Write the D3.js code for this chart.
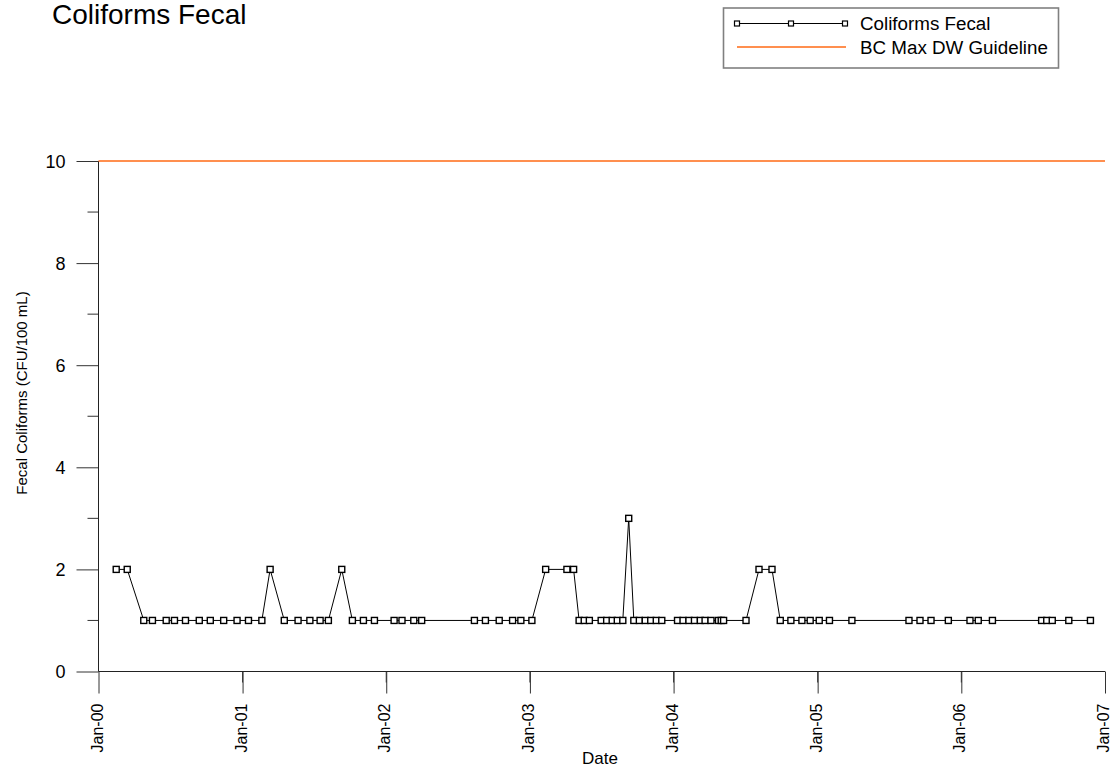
<!DOCTYPE html>
<html>
<head>
<meta charset="utf-8">
<script src="https://cdn.jsdelivr.net/npm/d3@7"></script>
<style>
  html, body { margin: 0; padding: 0; background: #fff; }
  svg { display: block; font-family: Arial, "Liberation Sans", sans-serif; }
</style>
</head>
<body>
<svg id="chart" width="1112" height="770"></svg>
<script>
// Fecal coliform sampling results (CFU/100 mL)
const sampleDates = [
  "2000-02-15","2000-03-14","2000-04-25","2000-05-17","2000-06-21","2000-07-12",
  "2000-08-09","2000-09-13","2000-10-11","2000-11-14","2000-12-18","2001-01-16",
  "2001-02-19","2001-03-12","2001-04-17","2001-05-22","2001-06-21","2001-07-17",
  "2001-08-07","2001-09-10","2001-10-07","2001-11-04","2001-12-02","2002-01-21",
  "2002-02-10","2002-03-12","2002-04-01","2002-08-13","2002-09-10","2002-10-15",
  "2002-11-18","2002-12-09","2003-01-06","2003-02-10","2003-04-05","2003-04-22",
  "2003-05-06","2003-05-19","2003-06-01","2003-07-01","2003-07-15","2003-07-29",
  "2003-08-11","2003-08-25","2003-09-09","2003-09-22","2003-10-06","2003-10-21",
  "2003-11-04","2003-11-18","2003-12-02","2004-01-11","2004-01-25","2004-02-09",
  "2004-02-23","2004-03-09","2004-03-21","2004-04-05","2004-04-24","2004-05-01",
  "2004-05-07","2004-07-03","2004-08-05","2004-09-07","2004-09-28","2004-10-25",
  "2004-11-22","2004-12-13","2005-01-05","2005-01-31","2005-03-29","2005-08-21",
  "2005-09-18","2005-10-16","2005-11-29","2006-01-23","2006-02-13","2006-03-21",
  "2006-07-24","2006-08-06","2006-08-20","2006-10-01","2006-11-25"
];
const fecalValues = [
  2,2,1,1,1,1,
  1,1,1,1,1,1,
  1,2,1,1,1,1,
  1,2,1,1,1,1,
  1,1,1,1,1,1,
  1,1,1,2,2,2,
  1,1,1,1,1,1,
  1,1,3,1,1,1,
  1,1,1,1,1,1,
  1,1,1,1,1,1,
  1,1,2,2,1,1,
  1,1,1,1,1,1,
  1,1,1,1,1,1,
  1,1,1,1,1
];
const guidelineValue = 10;
const yTicksMajor = [0, 2, 4, 6, 8, 10];
const yTicksMinor = [1, 3, 5, 7, 9];
const xDomain = ["2000-01-01", "2007-01-01"];

const parse = d3.timeParse("%Y-%m-%d");
const data = sampleDates.map((d, i) => ({ date: parse(d), value: fecalValues[i] }));

const svg = d3.select("#chart");
const plotLeft = 98.5, plotRight = 1105, plotTop = 161, plotBottom = 671.5;

const x = d3.scaleTime().domain(xDomain.map(parse)).range([plotLeft, plotRight]);
const y = d3.scaleLinear().domain([0, 10]).range([plotBottom, plotTop]);

const tickColor = "#333";
const guideColor = "#ff6a14";

// Y axis: major ticks with labels, minor ticks between
const yAxis = svg.append("g").attr("transform", `translate(${plotLeft},0)`);
yAxis.call(d3.axisLeft(y).tickValues(yTicksMajor).tickSize(22).tickSizeOuter(0).tickFormat(d3.format("d")))
  .call(g => g.select(".domain").remove())
  .call(g => g.selectAll(".tick line").attr("stroke", tickColor))
  .call(g => g.selectAll(".tick text").attr("font-size", 18).attr("fill", "#000")
        .attr("font-family", "Arial, 'Liberation Sans', sans-serif").attr("x", -33).attr("dy", "0.34em"));
yAxis.selectAll(".minor").data(yTicksMinor).join("line")
  .attr("x1", -11).attr("x2", 0).attr("y1", d => y(d)).attr("y2", d => y(d))
  .attr("stroke", tickColor);

// X axis: yearly labelled ticks, mid-year minor ticks
const years = d3.timeYear.range(parse(xDomain[0]), d3.timeDay.offset(parse(xDomain[1]), 1));
const mids = d3.timeMonth.every(12).range(parse("2000-07-01"), parse(xDomain[1]));
const xAxis = svg.append("g").attr("transform", `translate(0,${plotBottom})`);
xAxis.call(d3.axisBottom(x).tickValues(years).tickSize(22).tickSizeOuter(0).tickFormat(d3.timeFormat("Jan-%y")))
  .call(g => g.select(".domain").remove())
  .call(g => g.selectAll(".tick line").attr("stroke", tickColor))
  .call(g => g.selectAll(".tick text").attr("font-size", 16).attr("fill", "#000")
        .attr("font-family", "Arial, 'Liberation Sans', sans-serif")
        .attr("transform", "rotate(-90)").attr("text-anchor", "end")
        .attr("x", -32).attr("y", 0).attr("dy", "0.22em"));
xAxis.selectAll(".minor").data(mids).join("line")
  .attr("x1", d => x(d)).attr("x2", d => x(d)).attr("y1", 0).attr("y2", 11)
  .attr("stroke", tickColor);

// Axis lines
svg.append("line").attr("x1", plotLeft).attr("x2", plotRight).attr("y1", plotBottom).attr("y2", plotBottom)
  .attr("stroke", "#222");
svg.append("line").attr("x1", plotLeft).attr("x2", plotLeft).attr("y1", plotTop).attr("y2", plotBottom)
  .attr("stroke", "#222");

// Guideline
svg.append("line").attr("x1", plotLeft).attr("x2", plotRight)
  .attr("y1", y(guidelineValue)).attr("y2", y(guidelineValue))
  .attr("stroke", guideColor).attr("stroke-width", 1.4);

// Data series
const line = d3.line().x(d => x(d.date)).y(d => y(d.value));
svg.append("path").datum(data).attr("d", line)
  .attr("fill", "none").attr("stroke", "#000").attr("stroke-width", 1);
svg.append("g").selectAll("rect").data(data).join("rect")
  .attr("x", d => x(d.date) - 3).attr("y", d => y(d.value) - 3)
  .attr("width", 6).attr("height", 6)
  .attr("fill", "#fff").attr("stroke", "#000").attr("stroke-width", 1.4);

// Title
svg.append("text").attr("x", 52).attr("y", 24).attr("font-size", 28).attr("fill", "#000")
  .text("Coliforms Fecal");

// Axis titles
svg.append("text").attr("x", 600).attr("y", 764).attr("text-anchor", "middle")
  .attr("font-size", 17).text("Date");
svg.append("text").attr("transform", "translate(27,393) rotate(-90)").attr("text-anchor", "middle")
  .attr("font-size", 15).text("Fecal Coliforms (CFU/100 mL)");

// Legend
const legend = svg.append("g");
legend.append("rect").attr("x", 723.5).attr("y", 8).attr("width", 335).attr("height", 60)
  .attr("fill", "#fff").attr("stroke", "#808080").attr("stroke-width", 1.6);
legend.append("line").attr("x1", 737).attr("x2", 845).attr("y1", 23.5).attr("y2", 23.5)
  .attr("stroke", "#000");
legend.selectAll(".lm").data([737, 791, 845]).join("rect")
  .attr("x", d => d - 2.5).attr("y", 21).attr("width", 5).attr("height", 5)
  .attr("fill", "#fff").attr("stroke", "#000").attr("stroke-width", 1.2);
legend.append("text").attr("x", 860).attr("y", 30).attr("font-size", 18.8).text("Coliforms Fecal");
legend.append("line").attr("x1", 737).attr("x2", 846).attr("y1", 47).attr("y2", 47)
  .attr("stroke", guideColor).attr("stroke-width", 1.4);
legend.append("text").attr("x", 860).attr("y", 54).attr("font-size", 18.8).text("BC Max DW Guideline");
</script>
</body>
</html>
